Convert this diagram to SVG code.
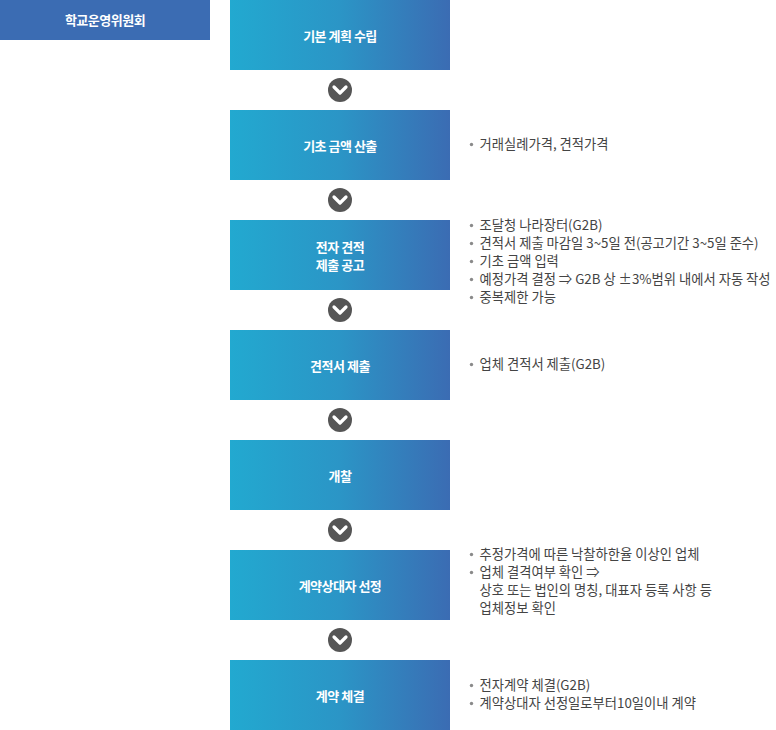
<svg xmlns="http://www.w3.org/2000/svg" width="776" height="730" viewBox="0 0 776 730">
<defs>
<linearGradient id="g" x1="0" y1="0" x2="1" y2="0">
<stop offset="0" stop-color="#22a9d0"/>
<stop offset="0.5" stop-color="#2b95c6"/>
<stop offset="1" stop-color="#3b6cb3"/>
</linearGradient>
<g id="arr">
<circle cx="0" cy="0" r="12" fill="#555555"/>
<polyline points="-6,-3 0,3 6,-3" fill="none" stroke="#ffffff" stroke-width="3.2" stroke-linecap="round" stroke-linejoin="round"/>
</g>
</defs>
<style>
.box{fill:url(#g)}
.bt{font-family:"Noto Sans CJK KR","Noto Sans",sans-serif;font-size:13px;font-weight:bold;fill:#ffffff;text-anchor:middle;dominant-baseline:central;letter-spacing:-0.5px}
.d{font-family:"Noto Sans CJK KR","Noto Sans",sans-serif;font-size:13.3px;fill:#444444;dominant-baseline:central}
.dot{fill:#8a8a8a}
</style>
<rect width="776" height="730" fill="#ffffff"/>
<g id="header">
<rect x="0" y="0" width="210" height="40" fill="#3b6cb3"/>
<text class="bt" x="105" y="19">학교운영위원회</text>
</g>
<g id="n1"><rect class="box" x="230" y="0" width="220" height="70"/><text class="bt" x="340" y="35">기본 계획 수립</text></g>
<g id="n2"><rect class="box" x="230" y="110" width="220" height="70"/><text class="bt" x="340" y="145">기초 금액 산출</text>
<circle class="dot" cx="471.5" cy="144.5" r="1.7"/><text class="d" x="479.5" y="143">거래실례가격, 견적가격</text></g>
<g id="n3"><rect class="box" x="230" y="220" width="220" height="70"/><text class="bt" x="340" y="246">전자 견적</text><text class="bt" x="340" y="264">제출 공고</text>
<circle class="dot" cx="471.5" cy="225.5" r="1.7"/><text class="d" x="479.5" y="224">조달청 나라장터(G2B)</text>
<circle class="dot" cx="471.5" cy="243.5" r="1.7"/><text class="d" x="479.5" y="242">견적서 제출 마감일 3~5일 전(공고기간 3~5일 준수)</text>
<circle class="dot" cx="471.5" cy="261.5" r="1.7"/><text class="d" x="479.5" y="260">기초 금액 입력</text>
<circle class="dot" cx="471.5" cy="279.5" r="1.7"/><text class="d" x="479.5" y="278">예정가격 결정 ⇒ G2B 상 ±3%범위 내에서 자동 작성</text>
<circle class="dot" cx="471.5" cy="297.5" r="1.7"/><text class="d" x="479.5" y="296">중복제한 가능</text></g>
<g id="n4"><rect class="box" x="230" y="330" width="220" height="70"/><text class="bt" x="340" y="365">견적서 제출</text>
<circle class="dot" cx="471.5" cy="364.5" r="1.7"/><text class="d" x="479.5" y="363">업체 견적서 제출(G2B)</text></g>
<g id="n5"><rect class="box" x="230" y="440" width="220" height="70"/><text class="bt" x="340" y="475">개찰</text></g>
<g id="n6"><rect class="box" x="230" y="550" width="220" height="70"/><text class="bt" x="340" y="585">계약상대자 선정</text>
<circle class="dot" cx="471.5" cy="554.5" r="1.7"/><text class="d" x="479.5" y="553">추정가격에 따른 낙찰하한율 이상인 업체</text>
<circle class="dot" cx="471.5" cy="572.5" r="1.7"/><text class="d" x="479.5" y="571">업체 결격여부 확인 ⇒</text>
<text class="d" x="479.5" y="589">상호 또는 법인의 명칭, 대표자 등록 사항 등</text>
<text class="d" x="479.5" y="607">업체정보 확인</text></g>
<g id="n7"><rect class="box" x="230" y="660" width="220" height="70"/><text class="bt" x="340" y="695">계약 체결</text>
<circle class="dot" cx="471.5" cy="685.5" r="1.7"/><text class="d" x="479.5" y="684">전자계약 체결(G2B)</text>
<circle class="dot" cx="471.5" cy="703.5" r="1.7"/><text class="d" x="479.5" y="702">계약상대자 선정일로부터10일이내 계약</text></g>
<g id="connectors">
<use href="#arr" x="340" y="90"/>
<use href="#arr" x="340" y="200"/>
<use href="#arr" x="340" y="310"/>
<use href="#arr" x="340" y="420"/>
<use href="#arr" x="340" y="530"/>
<use href="#arr" x="340" y="640"/>
</g>
</svg>
